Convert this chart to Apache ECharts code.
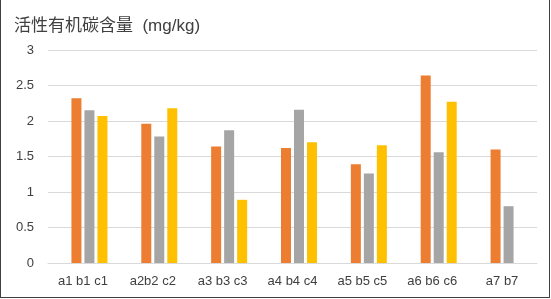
<!DOCTYPE html>
<html>
<head>
<meta charset="utf-8">
<script src="https://cdn.jsdelivr.net/npm/echarts@6/dist/echarts.min.js"></script>
<style>
  html, body { margin: 0; padding: 0; background: #fff; }
  #wrap { position: relative; width: 551px; height: 299px; }
  #chart { position: absolute; left: 0; top: 0; width: 551px; height: 299px; }
  #frame { position: absolute; left: 0; top: 0; width: 548px; height: 297px;
           border: 1px solid #404040; border-top: none; pointer-events: none; }
</style>
</head>
<body>
<div id="wrap">
  <div id="chart"></div>
  <div id="frame"></div>
</div>
<script>
// values
var categories = ['a1 b1 c1', 'a2b2 c2', 'a3 b3 c3', 'a4 b4 c4', 'a5 b5 c5', 'a6 b6 c6', 'a7 b7'];
var seriesA = [2.32, 1.96, 1.64, 1.62, 1.39, 2.64, 1.60];
var seriesB = [2.15, 1.78, 1.87, 2.16, 1.26, 1.56, 0.80];
var seriesC = [2.07, 2.18, 0.89, 1.70, 1.66, 2.27, null];
var yTicks = { min: 0, max: 3, interval: 0.5 };

var fontLatin = '"Liberation Sans", Arial, "Noto Sans CJK SC", sans-serif';

var option = {
	animation: false,
	title: {
		text: '活性有机碳含量  (mg/kg)',
		left: 9,
		top: 13,
		textStyle: {
			fontSize: 17,
			fontWeight: 'normal',
			color: '#404040',
			fontFamily: fontLatin
		}
	},
	grid: {
		left: 48,
		right: 14,
		top: 50,
		bottom: 36
	},
	xAxis: {
		type: 'category',
		data: categories,
		axisTick: { show: false },
		axisLine: { lineStyle: { color: '#D9D9D9', width: 1 } },
		axisLabel: {
			color: '#404040',
			fontSize: 13,
			margin: 12,
			fontFamily: fontLatin
		}
	},
	yAxis: {
		type: 'value',
		min: yTicks.min,
		max: yTicks.max,
		interval: yTicks.interval,
		axisLine: { show: false },
		axisTick: { show: false },
		splitLine: { lineStyle: { color: '#D9D9D9', width: 1 } },
		axisLabel: {
			color: '#404040',
			fontSize: 13,
			margin: 14,
			fontFamily: fontLatin
		}
	},
	series: [
		// empty slot, the original group keeps a blank bar on the left
		{ name: '', type: 'bar', data: [], barWidth: 10, barGap: '30%' },
		{ name: 'a', type: 'bar', data: seriesA, barWidth: 10, barGap: '30%', itemStyle: { color: '#ED7D31' } },
		{ name: 'b', type: 'bar', data: seriesB, barWidth: 10, barGap: '30%', itemStyle: { color: '#A5A5A5' } },
		{ name: 'c', type: 'bar', data: seriesC, barWidth: 10, barGap: '30%', itemStyle: { color: '#FFC000' } }
	]
};

var myChart = echarts.init(document.getElementById('chart'));
myChart.setOption(option);
</script>
</body>
</html>
